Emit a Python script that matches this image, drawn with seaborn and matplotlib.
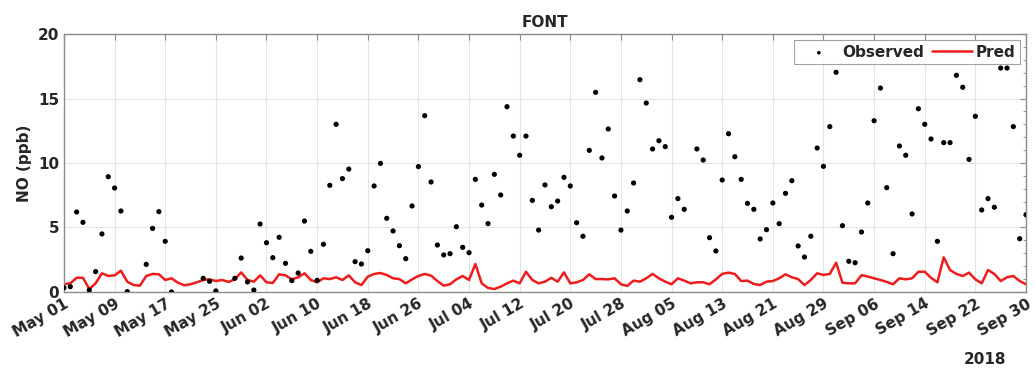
import numpy as np
import pandas as pd
import matplotlib
matplotlib.use("Agg")
import matplotlib.pyplot as plt
import matplotlib.dates as mdates
from matplotlib.ticker import MultipleLocator
import seaborn as sns

nan = np.nan

# daily dates, 2018-05-01 .. 2018-09-30
start_date = "2018-05-01"
end_date = "2018-09-30"

observed = [
    0.33, 0.41, 6.2, 5.4, 0.15, 1.58, 4.5, 8.94, 8.06, 6.28,
    0.03, nan, nan, 2.14, 4.93, 6.23, 3.93, 0.0, nan, nan,
    nan, nan, 1.06, 0.83, 0.08, nan, nan, 1.06, 2.63, 0.78,
    0.15, 5.27, 3.82, 2.66, 4.24, 2.22, 0.88, 1.47, 5.5, 3.15,
    0.9, 3.7, 8.27, 13.0, 8.79, 9.53, 2.35, 2.17, 3.2, 8.22,
    9.97, 5.71, 4.73, 3.59, 2.58, 6.67, 9.72, 13.67, 8.53, 3.64,
    2.87, 2.97, 5.06, 3.46, 3.05, 8.73, 6.74, 5.3, 9.12, 7.52,
    14.37, 12.09, 10.6, 12.09, 7.1, 4.8, 8.3, 6.61, 7.05, 8.89,
    8.22, 5.37, 4.32, 10.98, 15.48, 10.39, 12.64, 7.44, 4.8, 6.28,
    8.45, 16.46, 14.65, 11.09, 11.73, 11.27, 5.79, 7.24, 6.41, nan,
    11.09, 10.23, 4.21, 3.18, 8.68, 12.27, 10.49, 8.73, 6.87, 6.41,
    4.11, 4.83, 6.9, 5.3, 7.65, 8.63, 3.57, 2.71, 4.32, 11.16,
    9.74, 12.82, 17.03, 5.14, 2.38, 2.27, 4.65, 6.9, 13.28, 15.81,
    8.09, 2.97, 11.32, 10.6, 6.05, 14.21, 13.0, 11.86, 3.93, 11.58,
    11.58, 16.8, 15.87, 10.28, 13.62, 6.36, 7.24, 6.57, 17.36, 17.36,
    12.82, 4.13, 5.99,
]

pred = [
    0.6, 0.67, 1.1, 1.1, 0.23, 0.67, 1.45, 1.24, 1.29, 1.65,
    0.8, 0.54, 0.49, 1.24, 1.4, 1.37, 0.93, 1.06, 0.72, 0.52,
    0.6, 0.75, 0.93, 0.98, 0.85, 0.93, 0.78, 0.98, 1.52, 0.93,
    0.8, 1.29, 0.75, 0.7, 1.37, 1.29, 0.98, 1.14, 1.45, 0.93,
    0.75, 1.06, 1.0, 1.14, 0.93, 1.29, 0.75, 0.54, 1.19, 1.4,
    1.47, 1.32, 1.06, 1.0, 0.67, 0.98, 1.24, 1.4, 1.27, 0.85,
    0.49, 0.6, 0.98, 1.24, 0.93, 2.17, 0.67, 0.31, 0.23, 0.41,
    0.67, 0.88, 0.67, 1.57, 0.93, 0.67, 0.8, 1.1, 0.8, 1.52,
    0.67, 0.75, 0.93, 1.37, 1.0, 1.0, 0.98, 1.06, 0.6, 0.47,
    0.88, 0.8, 1.06, 1.4, 1.06, 0.8, 0.6, 1.06, 0.88, 0.67,
    0.75, 0.75, 0.6, 0.98, 1.4, 1.5, 1.4, 0.85, 0.88, 0.62,
    0.54, 0.8, 0.85, 1.06, 1.37, 1.14, 1.0, 0.54, 0.93, 1.45,
    1.32, 1.4, 2.27, 0.72, 0.67, 0.67, 1.3, 1.2, 1.06, 0.93,
    0.78, 0.6, 1.06, 0.98, 1.06, 1.57, 1.57, 1.1, 0.75, 2.69,
    1.7, 1.4, 1.24, 1.5, 0.98, 0.67, 1.7, 1.4, 0.85, 1.14,
    1.24, 0.85, 0.6,
]

dates = pd.date_range(start_date, end_date, freq="D")
df = pd.DataFrame({"date": dates, "Observed": observed, "Pred": pred})

sns.set_style("white")
plt.rcParams["font.family"] = ["DejaVu Sans"]
plt.rcParams["font.weight"] = "bold"

fig = plt.figure(figsize=(10.35, 3.74), dpi=100)
ax = fig.add_axes([0.0618, 0.2193, 0.9295, 0.6897])

sns.scatterplot(data=df, x="date", y="Observed", ax=ax, color="black",
                s=14, marker="o", edgecolor="none", label="Observed", zorder=3)
sns.lineplot(data=df, x="date", y="Pred", ax=ax, color="#ee1c1c",
             linewidth=1.8, label="Pred", zorder=2)

ax.set_xlim(dates[0], dates[-1])
ax.set_ylim(0, 20)

ax.set_xticks(dates[::8])
ax.xaxis.set_major_formatter(mdates.DateFormatter("%b %d"))
ax.yaxis.set_major_locator(MultipleLocator(5))
ax.yaxis.set_minor_locator(MultipleLocator(1))

ax.grid(True, which="major", color="#e4e4e4", linewidth=0.8)
ax.set_axisbelow(True)
for sp in ax.spines.values():
    sp.set_color("#8c8c8c")
    sp.set_linewidth(1.0)

ax.tick_params(axis="both", which="both", direction="in", top=True,
               right=True, color="#8c8c8c", labelsize=11, labelcolor="#262626")
ax.tick_params(axis="both", which="major", length=4)
ax.tick_params(axis="y", which="minor", length=2.5)
ax.tick_params(axis="x", which="major", pad=3)

for lbl in ax.get_xticklabels():
    lbl.set_rotation(30)
    lbl.set_ha("right")
    lbl.set_rotation_mode("anchor")
    lbl.set_fontweight("bold")
for lbl in ax.get_yticklabels():
    lbl.set_fontweight("bold")

ax.set_xlabel("")
ax.set_ylabel("NO (ppb)", fontsize=11, fontweight="bold", color="#262626")
ax.set_title("FONT", fontsize=11, fontweight="bold", color="#262626", pad=5)

leg = ax.legend(loc="upper right", ncol=2, frameon=True, fancybox=False,
                prop={"weight": "bold", "size": 11}, handlelength=2.6,
                columnspacing=0.5, borderpad=0.3, handletextpad=0.25,
                borderaxespad=0.4, markerscale=0.7)
leg.get_frame().set_edgecolor("#8c8c8c")
leg.get_frame().set_linewidth(0.8)

fig.text(0.952, 0.04, "2018", ha="center", va="center", fontsize=11,
         fontweight="bold", color="#262626")

fig.savefig("out.png", dpi=100)
